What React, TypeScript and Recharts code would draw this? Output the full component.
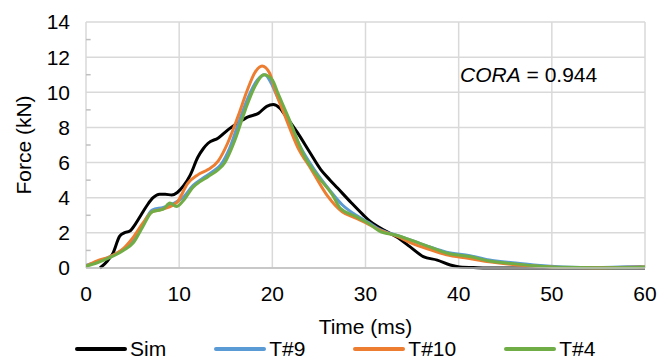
import {
  CartesianGrid,
  Label,
  Line,
  LineChart,
  ReferenceLine,
  XAxis,
  YAxis,
} from "recharts";

type Pt = { t: number; f: number };

// force (kN) vs time (ms)
const simTime = [1.5, 2.3, 2.9, 3.6, 4.1, 4.7, 5.3, 6.0, 6.6, 7.2, 7.9, 8.5, 9.2, 9.8, 10.5, 11.2, 12.0, 12.6, 13.1, 14.2, 15.2, 16.3, 17.4, 18.5, 19.4, 20.1, 20.8, 21.5, 22.7, 24.0, 25.2, 26.2, 27.0, 28.5, 29.7, 30.5, 31.5, 33.4, 34.8, 36.2, 37.7, 39.1, 40.1, 42, 44, 50, 60];
const simForce = [0, 0.4, 0.85, 1.8, 2.0, 2.1, 2.5, 3.1, 3.6, 4.0, 4.2, 4.2, 4.15, 4.3, 4.7, 5.3, 6.3, 6.8, 7.1, 7.4, 7.85, 8.25, 8.6, 8.8, 9.2, 9.3, 9.1, 8.6, 7.7, 6.6, 5.6, 5.0, 4.55, 3.7, 3.05, 2.65, 2.3, 1.75, 1.2, 0.65, 0.45, 0.17, 0.06, 0.02, 0, 0, 0];

const t9Time = [0, 1.2, 2.6, 4.0, 5.1, 6.1, 7.1, 8.3, 9.3, 10.4, 11.5, 12.5, 13.5, 14.5, 15.4, 16.4, 17.4, 18.4, 19.2, 19.9, 20.5, 21.6, 23.0, 24.5, 26.2, 27.5, 29, 30.3, 31.5, 33.4, 34.8, 36.9, 38.7, 41.2, 43.3, 45.8, 48.4, 51.2, 55, 59.5, 60];
const t9Force = [0.15, 0.35, 0.65, 1.05, 1.55, 2.45, 3.3, 3.45, 3.65, 4.0, 4.7, 5.1, 5.45, 5.9, 6.8, 8.3, 9.7, 10.7, 11.0, 10.5, 9.8, 8.6, 6.9, 5.6, 4.4, 3.6, 3.0, 2.6, 2.2, 1.85, 1.6, 1.2, 0.9, 0.7, 0.45, 0.3, 0.15, 0.06, 0.03, 0.08, 0.05];

const t10Time = [0, 1.2, 2.6, 4.0, 5.0, 6.1, 7.1, 7.9, 8.8, 9.8, 10.9, 12.0, 13.1, 14.2, 15.2, 16.3, 17.3, 18.1, 18.9, 19.7, 20.3, 21.4, 22.7, 24.2, 26.0, 27.5, 28.9, 30.3, 31.5, 33.4, 35, 36.9, 38.7, 41, 43.3, 45.8, 48.4, 51, 55, 60];
const t10Force = [0.1, 0.4, 0.65, 1.1, 1.7, 2.55, 3.2, 3.3, 3.45, 3.75, 4.8, 5.3, 5.6, 6.1, 7.1, 8.6, 10.1, 11.1, 11.5, 11.1, 10.1, 8.6, 6.9, 5.6, 4.05, 3.2, 2.85, 2.5, 2.15, 1.8, 1.4, 1.05, 0.75, 0.55, 0.35, 0.2, 0.1, 0.03, 0.02, 0.05];

const t4Time = [0, 1.2, 2.6, 4.0, 5.1, 6.1, 7.1, 8.3, 9.0, 9.7, 10.4, 11.5, 12.2, 13.1, 14.2, 14.9, 16.0, 17.1, 18.1, 19.1, 20.0, 20.6, 21.7, 23.5, 24.9, 26.4, 27.3, 28.9, 30.3, 31.5, 33.4, 34.8, 36.9, 38.7, 41.2, 43.3, 45.8, 48.4, 51.2, 55, 59, 60];
const t4Force = [0.1, 0.3, 0.6, 1.0, 1.45, 2.35, 3.2, 3.35, 3.7, 3.5, 3.8, 4.6, 4.9, 5.2, 5.6, 6.0, 7.3, 9.0, 10.3, 11.0, 10.7, 9.95, 8.6, 6.3, 5.2, 4.2, 3.4, 2.95, 2.55, 2.1, 1.85, 1.6, 1.2, 0.85, 0.65, 0.4, 0.25, 0.12, 0.04, 0.02, 0.03, 0.05];

const xTicks = [0, 10, 20, 30, 40, 50, 60];
const yTicks = [0, 2, 4, 6, 8, 10, 12, 14];
const yMinor = [1, 3, 5, 7, 9, 11, 13];

const corr = "0.944";

const zip = (t: number[], f: number[]): Pt[] => t.map((v, i) => ({ t: v, f: f[i] }));

const series = [
  { name: "Sim", color: "#000000", data: zip(simTime, simForce) },
  { name: "T#9", color: "#5b9bd5", data: zip(t9Time, t9Force) },
  { name: "T#10", color: "#ed7d31", data: zip(t10Time, t10Force) },
  { name: "T#4", color: "#70ad47", data: zip(t4Time, t4Force) },
];

const FONT = "'Liberation Sans', Arial, sans-serif";
const FS = 21;

function LegendRow() {
  return (
    <div
      style={{
        position: "absolute",
        left: 75,
        top: 338,
        display: "flex",
        gap: 48,
        fontFamily: FONT,
        fontSize: FS,
        color: "#000",
      }}
    >
      {series.map((s) => (
        <div key={s.name} style={{ display: "flex", alignItems: "center", gap: 3 }}>
          <div style={{ width: 52, height: 4, borderRadius: 2, background: s.color }} />
          <span style={{ lineHeight: "22px" }}>{s.name}</span>
        </div>
      ))}
    </div>
  );
}

function YTick(props: any) {
  const { x, y, payload } = props;
  return (
    <text x={x} y={y} dy="0.355em" textAnchor="end" fontSize={FS} fontFamily={FONT} fill="#000">
      {payload.value}
    </text>
  );
}

export default function App() {
  return (
    <div style={{ position: "absolute", left: 0, top: 0, width: 668, height: 360, background: "#fff", overflow: "hidden" }}>
      <LineChart width={668} height={360} margin={{ top: 22, right: 23, left: 0, bottom: 62 }}>
        <CartesianGrid stroke="#d9d9d9" strokeWidth={1.5} />
        <XAxis
          type="number"
          dataKey="t"
          domain={[0, 60]}
          ticks={xTicks}
          height={30}
          tickSize={0}
          tickMargin={18}
          axisLine={{ stroke: "#bfbfbf", strokeWidth: 1.5 }}
          tick={{ fontSize: FS, fontFamily: FONT, fill: "#000" }}
          allowDataOverflow
        >
          <Label
            content={({ viewBox }: any) => (
              <text
                x={viewBox.x + viewBox.width / 2}
                y={viewBox.y + 66}
                textAnchor="middle"
                fontSize={FS}
                fontFamily={FONT}
                fill="#000"
              >
                Time (ms)
              </text>
            )}
          />
        </XAxis>
        <YAxis
          type="number"
          domain={[0, 14]}
          ticks={yTicks}
          width={86}
          tickSize={0}
          tickMargin={16}
          axisLine={false}
          tick={<YTick />}
        >
          <Label
            content={({ viewBox }: any) => {
              const cx = 24;
              const cy = viewBox.y + viewBox.height / 2;
              return (
                <text
                  x={cx}
                  y={cy}
                  dy="0.355em"
                  transform={`rotate(-90 ${cx} ${cy})`}
                  textAnchor="middle"
                  fontSize={FS}
                  fontFamily={FONT}
                  fill="#000"
                >
                  Force (kN)
                </text>
              );
            }}
          />
        </YAxis>
        {yMinor.map((v) => (
          <ReferenceLine
            key={v}
            segment={[
              { x: 0, y: v },
              { x: 0.5, y: v },
            ]}
            stroke="#bfbfbf"
            strokeWidth={1.5}
          />
        ))}
        {series.map((s) => (
          <Line
            key={s.name}
            data={s.data}
            dataKey="f"
            name={s.name}
            type="monotone"
            stroke={s.color}
            strokeWidth={3}
            dot={false}
            activeDot={false}
            isAnimationActive={false}
          />
        ))}
      </LineChart>
      <LegendRow />
      <div
        style={{
          position: "absolute",
          left: 460,
          top: 63,
          fontFamily: FONT,
          fontSize: FS,
          color: "#000",
          whiteSpace: "nowrap",
        }}
      >
        <i>CORA</i> = {corr}
      </div>
    </div>
  );
}
